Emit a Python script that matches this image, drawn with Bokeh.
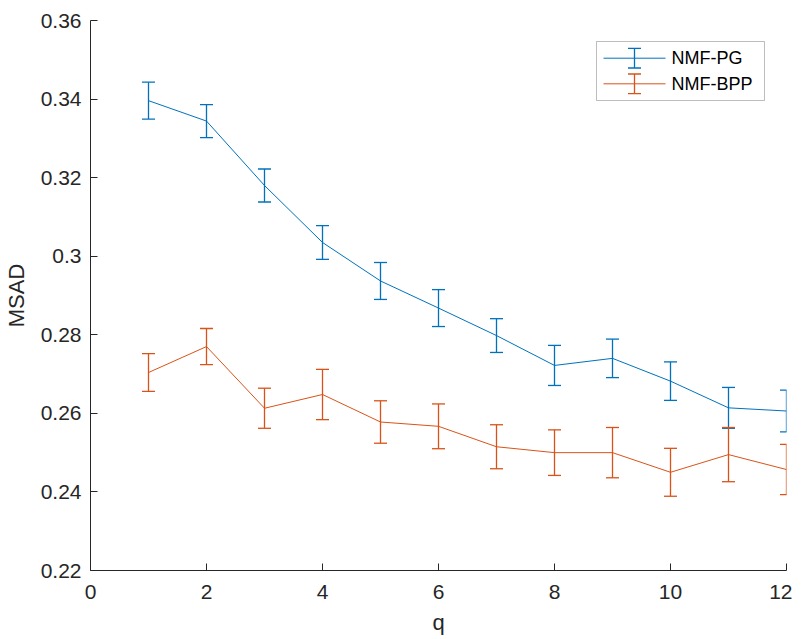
from bokeh.plotting import figure
from bokeh.models import ColumnDataSource, Whisker, TeeHead, Range1d, FixedTicker, BoxAnnotation, Label
from bokeh.embed import file_html
from bokeh.resources import INLINE

q = [1, 2, 3, 4, 5, 6, 7, 8, 9, 10, 11, 12]
pg_mean = [0.3396, 0.3344, 0.3180, 0.3035, 0.2937, 0.2868, 0.2798, 0.2722, 0.2740, 0.2682, 0.2614, 0.2606]
pg_err = [0.0047, 0.0042, 0.0042, 0.0043, 0.0047, 0.0047, 0.0043, 0.0051, 0.0049, 0.0049, 0.0052, 0.0053]
bpp_mean = [0.2704, 0.2770, 0.2613, 0.2648, 0.2578, 0.2567, 0.2515, 0.2500, 0.2500, 0.2450, 0.2495, 0.2457]
bpp_err = [0.0048, 0.0046, 0.0051, 0.0064, 0.0054, 0.0057, 0.0056, 0.0058, 0.0064, 0.0061, 0.0069, 0.0064]
x_ticks = [0, 2, 4, 6, 8, 10, 12]
y_ticks = [0.22, 0.24, 0.26, 0.28, 0.30, 0.32, 0.34, 0.36]
y_tick_labels = ["0.22", "0.24", "0.26", "0.28", "0.3", "0.32", "0.34", "0.36"]
series_names = ["NMF-PG", "NMF-BPP"]
x_title = "q"
y_title = "MSAD"

BLUE = "#0072BD"
ORANGE = "#D95319"
AX = "#262626"
FONT = "Liberation Sans"

X0, X1, Y0, Y1 = 0, 12, 0.22, 0.36
FW, FH = 696, 550          # frame size in px
BL, BR, BT, BB = 84, 6, 20, 69

p = figure(width=BL + FW + BR, height=BT + FH + BB, frame_width=FW, frame_height=FH,
           x_range=Range1d(X0, X1), y_range=Range1d(Y0, Y1),
           output_backend="svg", toolbar_location=None,
           min_border_left=BL, min_border_right=BR, min_border_top=BT, min_border_bottom=BB)
p.outline_line_color = None
p.grid.visible = False

for ax in (p.xaxis[0], p.yaxis[0]):
    ax.axis_line_color = AX
    ax.major_tick_line_color = AX
    ax.major_tick_in = 7
    ax.major_tick_out = 0
    ax.minor_tick_line_color = None
    ax.major_label_text_font = FONT
    ax.major_label_text_font_size = "21px"
    ax.major_label_text_color = AX
    ax.axis_label_text_font = FONT
    ax.axis_label_text_font_size = "22px"
    ax.axis_label_text_font_style = "normal"
    ax.axis_label_text_color = AX

p.xaxis.ticker = FixedTicker(ticks=x_ticks)
p.yaxis.ticker = FixedTicker(ticks=y_ticks)
p.yaxis.major_label_overrides = {t: l for t, l in zip(y_ticks, y_tick_labels)}
p.xaxis.axis_label = x_title
p.yaxis.axis_label = y_title
p.xaxis.major_label_standoff = 14
p.xaxis.axis_label_standoff = 8
p.yaxis.major_label_standoff = 9
p.yaxis.axis_label_standoff = 9


def fx(px):
    """frame pixel offset (from left) -> data x"""
    return X0 + px / FW * (X1 - X0)


def fy(py):
    """frame pixel offset (from top) -> data y"""
    return Y1 - py / FH * (Y1 - Y0)


for mean, err, color in ((pg_mean, pg_err, BLUE), (bpp_mean, bpp_err, ORANGE)):
    src = ColumnDataSource(dict(x=q, y=mean,
                                lo=[m - e for m, e in zip(mean, err)],
                                hi=[m + e for m, e in zip(mean, err)]))
    p.line("x", "y", source=src, line_color=color, line_width=1.0)
    w = Whisker(source=src, base="x", lower="lo", upper="hi", line_color=color, line_width=1.3,
                upper_head=TeeHead(size=13, line_color=color, line_width=1.3),
                lower_head=TeeHead(size=13, line_color=color, line_width=1.3))
    p.add_layout(w)

# manual legend, positioned by frame pixel offsets converted to data space
p.add_layout(BoxAnnotation(left=fx(506), right=fx(674), top=fy(21), bottom=fy(80),
                           fill_color="white", fill_alpha=1, line_color=AX, line_width=1))
for i, (name, color) in enumerate(zip(series_names, (BLUE, ORANGE))):
    yc = 37.7 + i * 25.6
    hsrc = ColumnDataSource(dict(b=[fy(yc)], lo=[fx(513)], hi=[fx(575)]))
    p.add_layout(Whisker(source=hsrc, base="b", lower="lo", upper="hi", dimension="width",
                         level="overlay", line_color=color, line_width=1.0,
                         lower_head=None, upper_head=None))
    vsrc = ColumnDataSource(dict(b=[fx(544)], lo=[fy(yc + 9.8)], hi=[fy(yc - 9.8)]))
    p.add_layout(Whisker(source=vsrc, base="b", lower="lo", upper="hi", dimension="height",
                         level="overlay", line_color=color, line_width=1.3,
                         upper_head=TeeHead(size=13, line_color=color, line_width=1.3),
                         lower_head=TeeHead(size=13, line_color=color, line_width=1.3)))
    p.add_layout(Label(x=fx(581), y=fy(yc), text=name, level="overlay",
                       text_font=FONT, text_font_size="18px", text_color="black",
                       text_baseline="middle", text_align="left"))

open("out.html", "w").write(file_html(p, INLINE))
